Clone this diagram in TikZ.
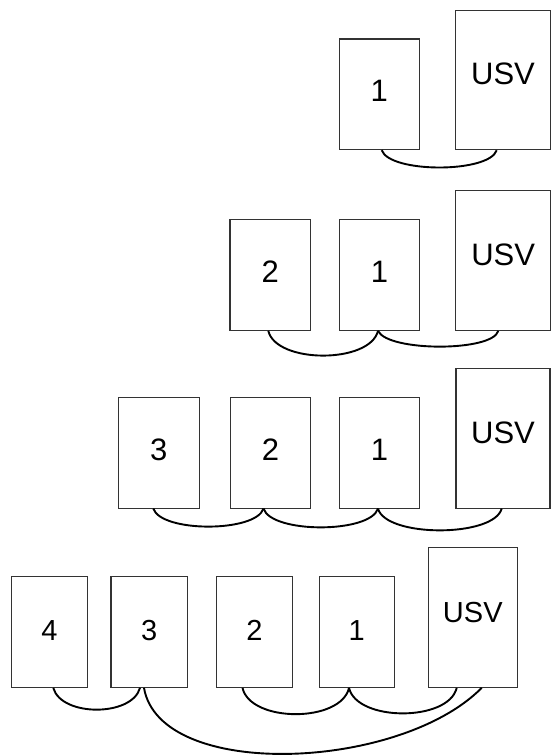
\documentclass[tikz,border=0pt]{standalone}
\usepackage{fontspec}
\setmainfont{Liberation Sans}
\begin{document}
\begin{tikzpicture}[x=1pt,y=-1pt,
  box/.style={draw=black!80,line width=1.1pt,rectangle,inner sep=0pt,
    font=\fontsize{31}{33}\selectfont,text depth=6pt},
  usv/.style={box,text depth=12pt},
  sbox/.style={box,font=\fontsize{29}{31}\selectfont,text depth=2pt},
  susv/.style={sbox,text depth=9pt},
  link/.style={draw=black,line width=1.9pt}]
\useasboundingbox (0,0) rectangle (556,756);
% Row 1
\node[box,minimum width=80,minimum height=110.7] (r1a) at (379.3,94.3) {1};
\node[usv,minimum width=94.6,minimum height=139.7] (r1u) at (503,79.9) {USV};
\draw[link] ([xshift=2.4pt]r1a.south) .. controls +(8,23) and +(-8,23) .. ([xshift=-6.3pt]r1u.south);
% Row 2
\node[box,minimum width=80.7,minimum height=111] (r2b) at (270.3,274.8) {2};
\node[box,minimum width=80.4,minimum height=111] (r2a) at (379.5,274.8) {1};
\node[usv,minimum width=95,minimum height=140.3] (r2u) at (503.2,260.2) {USV};
\draw[link] ([xshift=-2pt]r2b.south) .. controls +(8,33) and +(-8,33) .. ([xshift=-1.5pt]r2a.south);
\draw[link] ([xshift=-1.5pt]r2a.south) .. controls +(10,21) and +(-6,21) .. ([xshift=-4.9pt]r2u.south);
% Row 3
\node[box,minimum width=81,minimum height=110.7] (r3c) at (158.8,452.7) {3};
\node[box,minimum width=80.4,minimum height=110.7] (r3b) at (270.5,452.7) {2};
\node[box,minimum width=79.6,minimum height=110.7] (r3a) at (379.5,452.7) {1};
\node[usv,minimum width=94,minimum height=139.7] (r3u) at (503,438.2) {USV};
\draw[link] ([xshift=-5.5pt]r3c.south) .. controls +(8,24) and +(-8,24) .. ([xshift=-7pt]r3b.south);
\draw[link] ([xshift=-7pt]r3b.south) .. controls +(8,25) and +(-8,25) .. ([xshift=-1.5pt]r3a.south);
\draw[link] ([xshift=-1.5pt]r3a.south) .. controls +(8,29) and +(-8,29) .. ([xshift=-1.3pt]r3u.south);
% Row 4
\node[sbox,minimum width=75.6,minimum height=111.3] (r4d) at (49.5,631.7) {4};
\node[sbox,minimum width=76.7,minimum height=111.3] (r4c) at (149.3,631.7) {3};
\node[sbox,minimum width=75.6,minimum height=111.3] (r4b) at (254.5,631.7) {2};
\node[sbox,minimum width=75.3,minimum height=111.3] (r4a) at (356.7,631.7) {1};
\node[susv,minimum width=89,minimum height=140] (r4u) at (472.8,617.3) {USV};
\draw[link] ([xshift=3.8pt]r4d.south) .. controls +(8,29) and +(-8,29) .. ([xshift=-9.3pt]r4c.south);
\draw[link] ([xshift=-12pt]r4b.south) .. controls +(8,35) and +(-8,35) .. ([xshift=-7.7pt]r4a.south);
\draw[link] ([xshift=-7.7pt]r4a.south) .. controls +(8,34) and +(-8,34) .. ([xshift=-16.1pt]r4u.south);
\draw[link] ([xshift=-5.3pt]r4c.south) .. controls +(16,93) and +(-82,83) .. ([xshift=8.9pt]r4u.south);
\end{tikzpicture}
\end{document}
